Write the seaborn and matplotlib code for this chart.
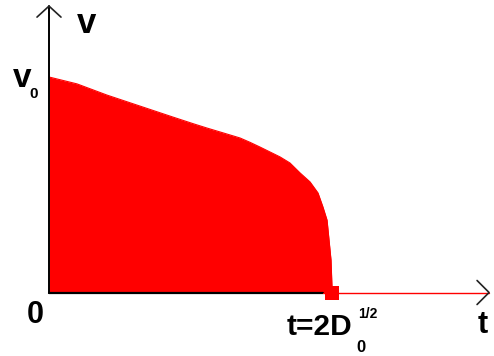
import matplotlib
matplotlib.use("Agg")
import matplotlib.pyplot as plt
import seaborn as sns
import pandas as pd

# velocity curve (t in units of D0^(1/2), v in units of v0)
t_vals = [0.0, 0.198, 0.41, 0.643, 0.876, 1.025, 1.117, 1.244, 1.35, 1.42,
          1.491, 1.562, 1.633, 1.703, 1.774, 1.845, 1.901, 1.936, 1.965,
          1.979, 1.993, 2.0, 2.0]
v_vals = [1.0, 0.968, 0.916, 0.865, 0.814, 0.782, 0.763, 0.738, 0.717, 0.697,
          0.675, 0.652, 0.629, 0.601, 0.555, 0.513, 0.462, 0.397, 0.336,
          0.244, 0.151, 0.026, 0.0]
t_end = 2.0
t_axis_max = 3.11
v_axis_max = 1.329

# pixel scale of the drawing
PX_T = 141.5
PX_V = 215.5
W, H = 494, 356

sns.set_style("white")
plt.rcParams['font.family'] = ['Liberation Sans', 'DejaVu Sans']

fig = plt.figure(figsize=(W / 100, H / 100), dpi=100)
ax = fig.add_axes([0, 0, 1, 1])
ax.set_xlim(-49 / PX_T, (W - 49) / PX_T)
ax.set_ylim((292.5 - H) / PX_V, 292.5 / PX_V)
ax.axis('off')

df = pd.DataFrame({'t': t_vals, 'v': v_vals})
ax.fill_between(df['t'], df['v'], 0, color='#ff0000', linewidth=0, zorder=2)
sns.lineplot(data=df, x='t', y='v', color='#ff0000', linewidth=0.8, sort=False,
             estimator=None, ax=ax, zorder=2)

# axes
ax.plot([0, 0], [0, v_axis_max], color='black', lw=1.4, zorder=3)
ax.plot([0, 1.936], [0, 0], color='black', lw=1.6, zorder=3)
ax.plot([1.936, t_axis_max], [0, 0], color='#ff0000', lw=1.0, zorder=3)
ax.plot([t_end], [0], marker='s', markersize=9.5, color='#ff0000',
        markeredgewidth=0, zorder=4)

# open arrow heads (offsets in pixels)
dx, dy = 12 / PX_T, 11 / PX_V
ax.plot([-dx, 0, dx], [v_axis_max - dy, v_axis_max, v_axis_max - dy],
        color='#222222', lw=1.2, zorder=3)
dx, dy = 12 / PX_T, 12 / PX_V
ax.plot([t_axis_max - dx, t_axis_max, t_axis_max - dx], [dy, 0, -dy],
        color='#222222', lw=1.2, zorder=3)


def px_text(x, y, s, size, ha='left', va='baseline'):
    fig.text(x / W, 1 - y / H, s, fontsize=size, fontweight='bold',
             ha=ha, va=va, color='black')


px_text(87, 33, 'v', 25, ha='center')
px_text(22, 87, 'v', 24, ha='center')
px_text(34, 98, '0', 11, ha='center')
px_text(35, 323, '0', 22, ha='center')
px_text(287, 335, 't=2D', 21.5)
px_text(358, 318, '1/2', 10)
px_text(356, 352, '0', 12)
px_text(483, 333, 't', 22, ha='center')

fig.savefig('out.png', dpi=100)
